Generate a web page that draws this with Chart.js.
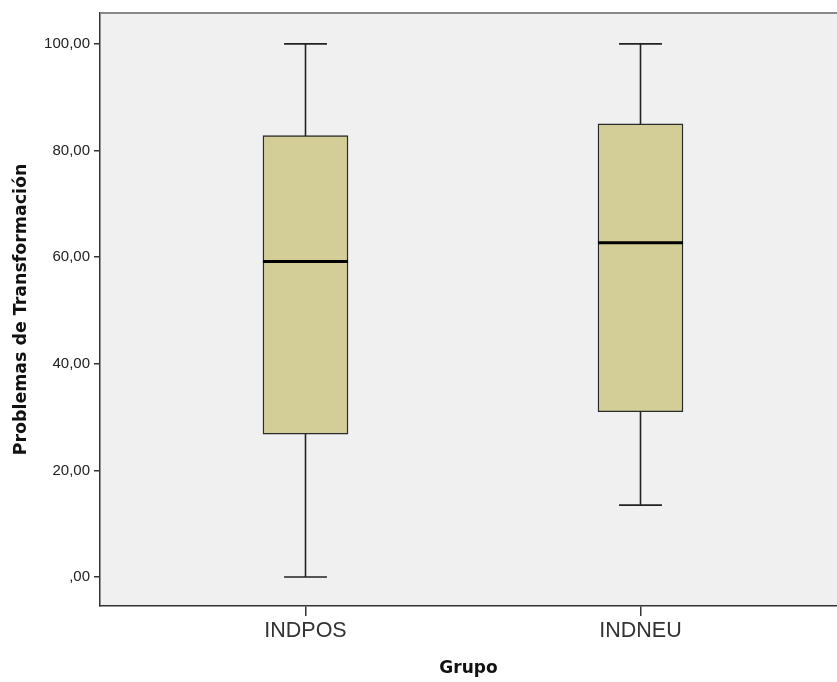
<!DOCTYPE html>
<html>
<head>
<meta charset="utf-8">
<script src="https://cdn.jsdelivr.net/npm/chart.js@4"></script>
<style>
  html, body { margin: 0; padding: 0; background: #fff; }
  #wrap { width: 837px; height: 682px; }
</style>
</head>
<body>
<div id="wrap"><canvas id="boxChart" width="837" height="682"></canvas></div>
<script>
// Boxplot values
const groups = ['INDPOS', 'INDNEU'];
const whiskerLow = [0, 13.5];
const q1 = [26.8, 31.0];
const median = [59.2, 62.7];
const q3 = [82.8, 85.0];
const whiskerHigh = [100, 100];
const yTicks = [0, 20, 40, 60, 80, 100];

const BOX_FILL = '#d3ce98';
const LINE = '#222';

const fmt = v => (v === 0 ? ',00' : v.toFixed(2).replace('.', ','));

// whiskers go behind boxes, medians and top frame on top
const boxPlugin = {
  id: 'boxParts',
  beforeDatasetsDraw(chart) {
    const { ctx, scales: { x, y } } = chart;
    const cap = (x.getPixelForValue(1.064) - x.getPixelForValue(1));
    ctx.save();
    ctx.strokeStyle = LINE;
    ctx.lineWidth = 1.6;
    groups.forEach((g, i) => {
      const cx = Math.round(x.getPixelForValue(i + 1)) + 0.5;
      const yl = y.getPixelForValue(whiskerLow[i]);
      const yh = y.getPixelForValue(whiskerHigh[i]);
      ctx.beginPath();
      ctx.moveTo(cx, yl); ctx.lineTo(cx, yh);
      ctx.moveTo(cx - cap, yl); ctx.lineTo(cx + cap, yl);
      ctx.moveTo(cx - cap, yh); ctx.lineTo(cx + cap, yh);
      ctx.stroke();
    });
    ctx.restore();
  },
  afterDatasetsDraw(chart) {
    const { ctx, chartArea, scales: { x, y } } = chart;
    const half = (x.getPixelForValue(1.127) - x.getPixelForValue(1));
    ctx.save();
    ctx.strokeStyle = '#000';
    ctx.lineWidth = 3;
    groups.forEach((g, i) => {
      const cx = x.getPixelForValue(i + 1);
      const ym = y.getPixelForValue(median[i]);
      ctx.beginPath();
      ctx.moveTo(cx - half, ym); ctx.lineTo(cx + half, ym);
      ctx.stroke();
    });
    // grey frame line along the top
    ctx.strokeStyle = '#888';
    ctx.lineWidth = 2;
    ctx.beginPath();
    ctx.moveTo(chartArea.left, chartArea.top);
    ctx.lineTo(chartArea.right, chartArea.top);
    ctx.stroke();
    ctx.restore();
  }
};

const bgPlugin = {
  id: 'plotBg',
  beforeDraw(chart) {
    const { ctx, chartArea } = chart;
    ctx.save();
    ctx.fillStyle = '#f0f0f0';
    ctx.fillRect(chartArea.left, chartArea.top, chartArea.right - chartArea.left, chartArea.bottom - chartArea.top);
    ctx.restore();
  }
};

new Chart(document.getElementById('boxChart'), {
  type: 'bar',
  data: {
    datasets: [{
      data: groups.map((g, i) => ({ x: i + 1, y: [q1[i], q3[i]] })),
      backgroundColor: BOX_FILL,
      borderColor: '#2a2a2a',
      borderWidth: 1.4,
      borderSkipped: false,
      barThickness: 85
    }]
  },
  options: {
    responsive: false,
    animation: false,
    layout: { padding: { top: 12, right: 0, left: 0, bottom: 0 } },
    plugins: { legend: { display: false }, tooltip: { enabled: false } },
    scales: {
      x: {
        type: 'linear',
        offset: false,
        min: 0.3866,
        max: 2.5866,
        afterBuildTicks: s => { s.ticks = groups.map((g, i) => ({ value: i + 1 })); },
        afterFit: s => { s.height = 76; },
        ticks: {
          callback: v => groups[v - 1],
          color: '#333',
          font: { family: 'Liberation Sans', size: 21.5 },
          padding: 2,
          maxRotation: 0
        },
        grid: { offset: false, drawOnChartArea: false, tickLength: 10, color: '#333', lineWidth: 1.5 },
        border: { color: '#333', width: 1.5 },
        title: {
          display: true,
          text: 'Grupo',
          color: '#111',
          font: { family: 'DejaVu Sans', size: 17, weight: 'bold' },
          padding: { top: 0, bottom: 3 }
        }
      },
      y: {
        min: -5.43,
        max: 105.8,
        afterBuildTicks: s => { s.ticks = yTicks.map(v => ({ value: v })); },
        afterFit: s => { s.width = 100; },
        ticks: {
          callback: v => fmt(v),
          color: '#222',
          font: { family: 'Liberation Sans', size: 15 },
          padding: 4
        },
        grid: { drawOnChartArea: false, tickLength: 6, color: '#333', lineWidth: 1.5 },
        border: { color: '#333', width: 1.5 },
        title: {
          display: true,
          text: 'Problemas de Transformación',
          color: '#111',
          font: { family: 'DejaVu Sans', size: 17.4, weight: 'bold' },
          padding: { top: 11, bottom: 0 }
        }
      }
    }
  },
  plugins: [bgPlugin, boxPlugin]
});
</script>
</body>
</html>
